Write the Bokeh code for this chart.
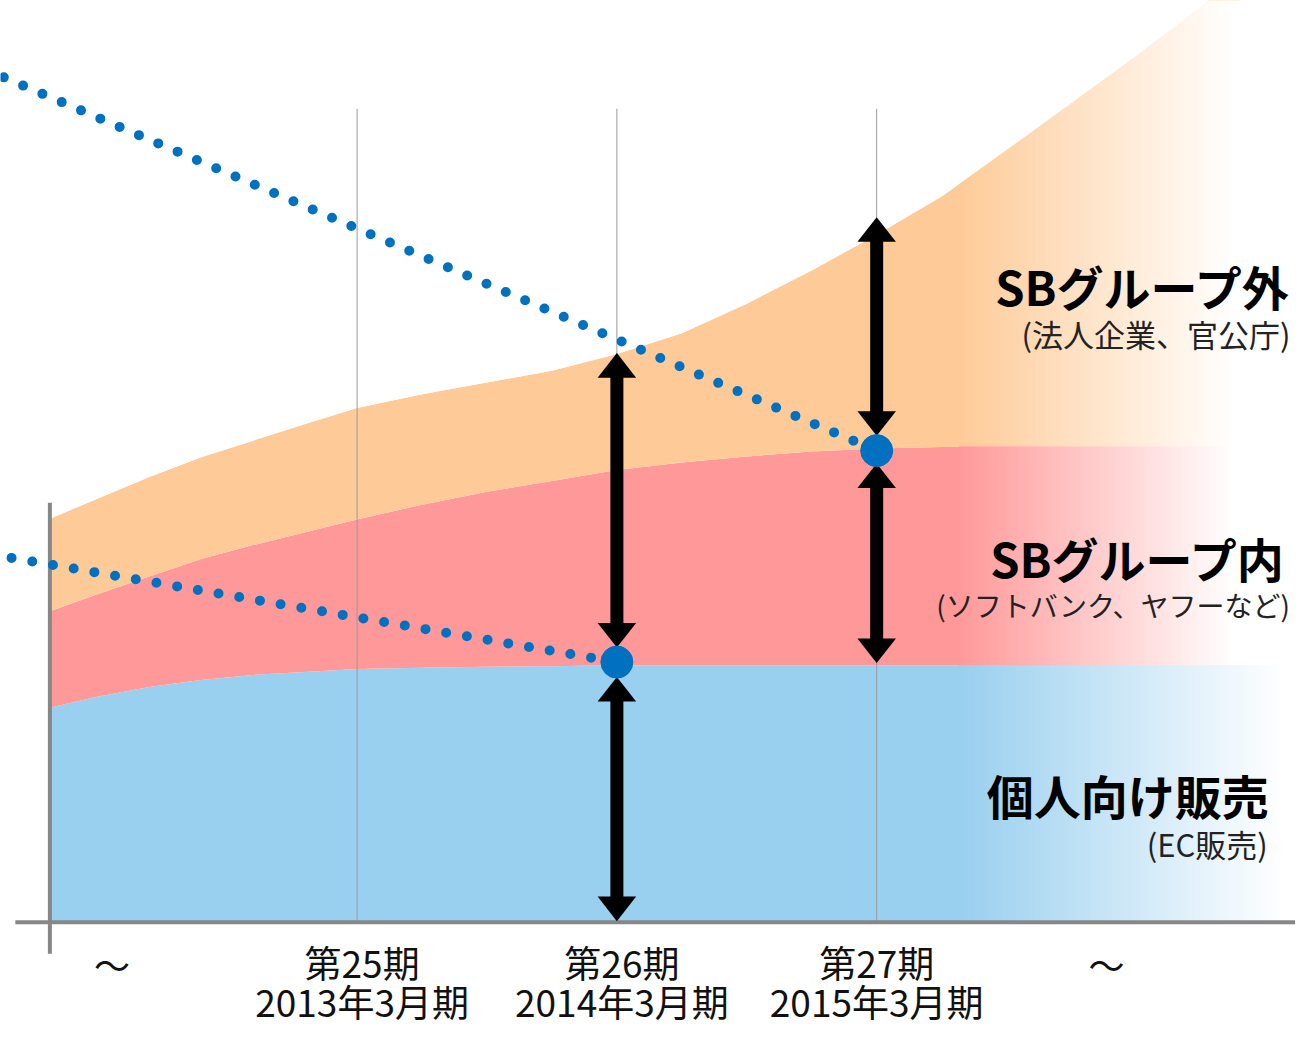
import numpy as np
from bokeh.plotting import figure
from bokeh.models import ColumnDataSource, Label, Range1d
from bokeh.core.properties import value
from bokeh.embed import file_html
from bokeh.resources import INLINE

# ---------------- data ----------------
period = [23.82, 24.0, 24.2, 24.4, 24.6, 24.8, 25.0, 25.25, 25.5, 25.75, 26.0,
          26.25, 26.5, 26.75, 27.0, 27.25, 27.5, 27.75, 28.0, 28.2, 28.4]
personal = [83.5, 87.7, 91.5, 94.2, 96.2, 97.3, 98.5, 99.0, 99.4, 99.6, 100.0,
            100.0, 100.0, 100.0, 100.0, 100.0, 100.0, 100.0, 100.0, 100.0, 100.0]
group_in = [37.7, 40.0, 43.1, 47.3, 50.7, 54.6, 58.4, 63.7, 68.3, 72.3, 76.2,
            79.2, 81.5, 83.5, 84.6, 85.2, 85.4, 85.4, 85.4, 85.4, 85.4]
group_out = [36.1, 37.3, 38.9, 39.7, 40.8, 42.3, 43.5, 43.1, 42.7, 43.1, 45.3,
             50.4, 59.7, 70.7, 83.5, 97.9, 115.8, 134.2, 152.7, 168.1, 183.8]

tick_period = [25, 26, 27]
tick_top = ["第25期", "第26期", "第27期"]
tick_bottom = ["2013年3月期", "2014年3月期", "2015年3月期"]

trend_hi_x = [23.64, 27.0]
trend_hi_y = [329.6, 183.8]
trend_lo_x = [23.67, 26.0]
trend_lo_y = [141.9, 101.2]
dot_x = [26.0, 27.0]
dot_y = [101.2, 183.8]

arrow_x = [26.0, 26.0, 27.0, 27.0]
arrow_from = [0.0, 106.9, 100.8, 189.6]
arrow_to = [95.4, 221.9, 178.8, 275.0]

# ---------------- layout / style ----------------
W, H = 1295, 1029
REF_W, REF_H = 1311, 1045
SX, SY = W / REF_W, H / REF_H
BLUE, PINK, ORANGE = "#99CFEF", "#FF9999", "#FECB98"
DOT = "#0070C0"
FONT = "Noto Sans CJK JP"


def px_to_x(px):
    return 25 + (px - 361) / 263.0


def py_to_y(py):
    return (935 - py) / 2.6


Y_TOP = py_to_y(-300)

p = figure(width=W, height=H,
           x_range=Range1d(px_to_x(0), px_to_x(REF_W)),
           y_range=Range1d(py_to_y(REF_H), py_to_y(0)),
           output_backend="svg", toolbar_location=None, tools="",
           min_border=0, x_axis_location=None, y_axis_location=None,
           background_fill_color="white", border_fill_color="white",
           outline_line_color=None)
p.grid.visible = False

src = ColumnDataSource(dict(period=period, personal=personal,
                            group_in=group_in, group_out=group_out))
p.varea_stack(stackers=["personal", "group_in", "group_out"], x="period",
              color=[BLUE, PINK, ORANGE], source=src)

outer_top = [a + b + c for a, b, c in zip(personal, group_in, group_out)]


def mix(hexcol, t):
    c = [int(hexcol[i:i + 2], 16) for i in (1, 3, 5)]
    c = [round(v + (255 - v) * t) for v in c]
    return "#%02x%02x%02x" % tuple(c)


def fade_band(x0px, x1px, bottom, top, color, follow_top=False):
    # opaque strips, each overlapping the next, fading to white
    n = int((x1px - x0px) / 2)
    lefts, rights, cols = [], [], []
    for k in range(n):
        lefts.append(px_to_x(x0px + 2 * k))
        rights.append(px_to_x(x0px + 2 * k + 3))
        cols.append(mix(color, (k + 0.5) / n))
    lefts.append(px_to_x(x0px + 2 * n))
    rights.append(px_to_x(1340))
    cols.append("#ffffff")
    if follow_top:
        tops = list(np.interp(rights, period, outer_top) + 1.0)
    else:
        tops = top
    p.quad(left=lefts, right=rights, bottom=bottom, top=tops,
           fill_color=cols, line_color=None)


pink_top_end = personal[-1] + group_in[-1]
fade_band(970, 1250, pink_top_end - 0.5, None, ORANGE, follow_top=True)
fade_band(970, 1250, personal[-1] - 0.5, pink_top_end, PINK)
fade_band(970, 1300, 0, personal[-1], BLUE)

# trim the strips back to the outer band's edge
p.varea(x=period + [px_to_x(1340)], y1=outer_top + [outer_top[-1]],
        y2=[Y_TOP] * (len(period) + 1), color="white")

# vertical grid lines
p.segment(x0=tick_period, y0=0, x1=tick_period, y1=py_to_y(110),
          line_color="#9a9a9a", line_width=1)
# axis lines
p.segment(x0=[px_to_x(50), px_to_x(15)], y0=[py_to_y(968), py_to_y(936)],
          x1=[px_to_x(50), px_to_x(1330)], y1=[py_to_y(510), py_to_y(936)],
          line_color="#878787", line_width=4)

# dotted trend lines
for xs, ys in ((trend_hi_x, trend_hi_y), (trend_lo_x, trend_lo_y)):
    p.line(xs, ys, line_color=DOT, line_width=10, line_dash="0 21",
           line_cap="round")

# double arrows
hw = 19.5 / 263.0
hl = 25 / 2.6
p.segment(x0=arrow_x, y0=[a + hl * 0.9 for a in arrow_from],
          x1=arrow_x, y1=[b - hl * 0.9 for b in arrow_to],
          line_color="black", line_width=13)
hx, hy = [], []
for x, a, b in zip(arrow_x, arrow_from, arrow_to):
    hx.append([x - hw, x + hw, x])
    hy.append([b - hl, b - hl, b])
    hx.append([x - hw, x + hw, x])
    hy.append([a + hl, a + hl, a])
p.patches(hx, hy, fill_color="black", line_color=None)

p.scatter(dot_x, dot_y, size=32, color=DOT)

# period labels
p.text(x=tick_period, y=py_to_y(976), text=tick_top,
       text_font=value(FONT), text_font_size="37px", text_color="#111111",
       text_align="center", text_baseline="middle", x_offset=[5, 5, 0])
p.text(x=tick_period, y=py_to_y(1016), text=tick_bottom,
       text_font=value(FONT), text_font_size="37px", text_color="#111111",
       text_align="center", text_baseline="middle", x_offset=[5, 5, 0])


def lab(text, rx, cy, size, bold=False, color="#000000"):
    p.add_layout(Label(x=rx * SX, y=(REF_H - cy) * SY, x_units="screen",
                       y_units="screen", text=text, text_font=FONT,
                       text_font_size=size,
                       text_font_style="bold" if bold else "normal",
                       text_color=color, text_align="right",
                       text_baseline="middle"))


lab("〜", 131, 978, "36px", color="#111111")
lab("〜", 1138, 978, "36px", color="#111111")
lab("SBグループ外", 1307, 289, "47px", bold=True)
lab("(法人企業、官公庁)", 1306, 338, "31px", color="#222222")
lab("SBグループ内", 1302, 566, "47px", bold=True)
lab("(ソフトバンク、ヤフーなど)", 1304, 614, "28px", color="#222222")
lab("個人向け販売", 1284, 806, "47px", bold=True)
lab("(EC販売)", 1283, 856, "31px", color="#222222")

open("out.html", "w").write(file_html(p, INLINE))
